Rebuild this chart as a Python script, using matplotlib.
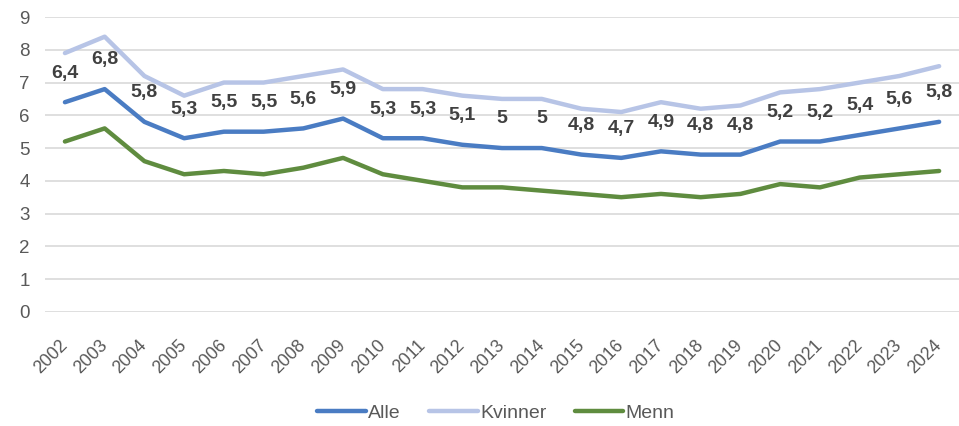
import matplotlib
matplotlib.use("Agg")
import matplotlib.pyplot as plt

plt.rcParams['font.family'] = ['Liberation Sans', 'DejaVu Sans']

years = [str(y) for y in range(2002, 2025)]
alle = [6.4, 6.8, 5.8, 5.3, 5.5, 5.5, 5.6, 5.9, 5.3, 5.3, 5.1, 5, 5, 4.8, 4.7, 4.9, 4.8, 4.8, 5.2, 5.2, 5.4, 5.6, 5.8]
kvinner = [7.9, 8.4, 7.2, 6.6, 7.0, 7.0, 7.2, 7.4, 6.8, 6.8, 6.6, 6.5, 6.5, 6.2, 6.1, 6.4, 6.2, 6.3, 6.7, 6.8, 7.0, 7.2, 7.5]
menn = [5.2, 5.6, 4.6, 4.2, 4.3, 4.2, 4.4, 4.7, 4.2, 4.0, 3.8, 3.8, 3.7, 3.6, 3.5, 3.6, 3.5, 3.6, 3.9, 3.8, 4.1, 4.2, 4.3]
yticks = list(range(0, 10))

fig = plt.figure(figsize=(9.59, 4.26), dpi=100)
ax = fig.add_axes([0.047, 0.268, 0.953, 0.692])
x = list(range(len(years)))

ax.plot(x, alle, color='#4a7cc3', lw=3.2, label='Alle', solid_capstyle='round', zorder=3)
ax.plot(x, kvinner, color='#b7c4e6', lw=3.2, label='Kvinner', solid_capstyle='round', zorder=2)
ax.plot(x, menn, color='#5f8c3f', lw=3.2, label='Menn', solid_capstyle='round', zorder=2)

for xi, v in zip(x, alle):
    lab = ('%g' % v).replace('.', ',')
    ax.annotate(lab, (xi, v), xytext=(0, 21), textcoords='offset points',
                ha='center', va='center', fontsize=14, fontweight='bold', color='#404040', zorder=4)

ax.set_xlim(-0.5, 22.5)
ax.set_ylim(0, 9)
ax.set_yticks(yticks)
ax.set_xticks(x)
ax.set_xticklabels(years, rotation=45, ha='right', va='center', rotation_mode='anchor')
ax.grid(axis='y', color='#d9d9d9', lw=1.2)
ax.set_axisbelow(True)
for s in ax.spines.values():
    s.set_visible(False)
ax.tick_params(axis='both', length=0, colors='#595959')
ax.tick_params(axis='y', labelsize=13.5, pad=11)
ax.tick_params(axis='x', labelsize=12.8, pad=22)

fig.legend(loc='center', bbox_to_anchor=(0.517, 1 - 413 / 426), ncol=3, frameon=False,
           fontsize=14, handlelength=2.5, columnspacing=1.45, handletextpad=0.12,
           labelcolor='#595959')

fig.savefig('out.png', dpi=100)
